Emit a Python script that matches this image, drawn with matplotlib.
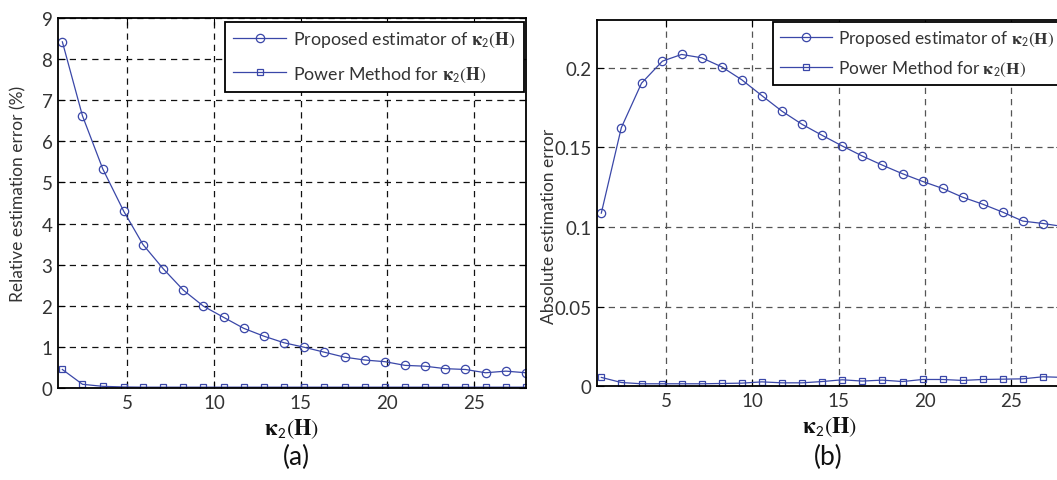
import matplotlib
matplotlib.use("Agg")
import matplotlib.pyplot as plt

plt.rcParams['font.family'] = ['Lato', 'DejaVu Sans']
plt.rcParams['mathtext.fontset'] = 'stix'

# condition number positions (same for both panels)
kappa = [1.25, 2.41, 3.58, 4.79, 5.90, 7.07, 8.23, 9.39, 10.55, 11.72, 12.88, 14.04,
         15.21, 16.37, 17.53, 18.70, 19.86, 21.02, 22.18, 23.35, 24.51, 25.67, 26.84, 28.0]

# (a) relative estimation error (%)
rel_proposed = [8.42, 6.62, 5.33, 4.30, 3.49, 2.90, 2.38, 1.99, 1.72, 1.45, 1.26, 1.10,
                0.99, 0.87, 0.75, 0.68, 0.64, 0.55, 0.53, 0.47, 0.45, 0.37, 0.41, 0.37]
rel_power = [0.45, 0.09, 0.04, 0.025, 0.02, 0.02, 0.02, 0.02, 0.02, 0.02, 0.02, 0.02,
             0.02, 0.02, 0.02, 0.02, 0.02, 0.02, 0.02, 0.02, 0.02, 0.02, 0.02, 0.02]

# (b) absolute estimation error
abs_proposed = [0.1087, 0.1623, 0.1902, 0.2040, 0.2082, 0.2061, 0.2004, 0.1923, 0.1824,
                0.1726, 0.1644, 0.1575, 0.1508, 0.1445, 0.1388, 0.1334, 0.1286, 0.1242,
                0.1187, 0.1143, 0.1093, 0.1037, 0.1022, 0.1003]
abs_power = [0.0057, 0.0025, 0.0017, 0.0017, 0.0017, 0.0017, 0.0019, 0.0021, 0.0029,
             0.0023, 0.0023, 0.0031, 0.0042, 0.0034, 0.0040, 0.0031, 0.0044, 0.0044,
             0.0038, 0.0044, 0.0046, 0.0048, 0.0061, 0.0057]

BLUE = '#3a47a8'
TXT = '#333333'
KAP = r'$\mathbf{\kappa}_{\mathsf{2}}(\mathbf{H})$'
LABELS = ['Proposed estimator of ' + KAP, 'Power Method for ' + KAP]


def style_axes(ax, grid_color):
    for sp in ax.spines.values():
        sp.set_linewidth(1.3)
        sp.set_color('black')
    ax.grid(True, linestyle=(0, (5, 4)), color=grid_color, linewidth=0.9)
    ax.tick_params(direction='in', length=5, width=0.8, top=True, right=True,
                   labelsize=13.5, labelcolor=TXT, pad=4)
    ax.set_xlim(1, 28)
    ax.set_xticks([5, 10, 15, 20, 25])


def draw(ax, y1, y2):
    ax.plot(kappa, y1, color=BLUE, lw=0.9, marker='o', ms=6, mfc='none', mew=0.9,
            label=LABELS[0])
    ax.plot(kappa, y2, color=BLUE, lw=0.9, marker='s', ms=4.5, mfc='none', mew=0.9,
            label=LABELS[1])


def add_legend(ax, anchor, size, spacing, pad):
    leg = ax.legend(loc='upper left', bbox_to_anchor=anchor,
                    bbox_transform=fig.transFigure, borderaxespad=0, fancybox=False,
                    framealpha=1, edgecolor='black', fontsize=size, handlelength=3.0,
                    labelspacing=spacing, borderpad=pad, handletextpad=0.4)
    leg.get_frame().set_linewidth(1.3)
    for t in leg.get_texts():
        t.set_color(TXT)


fig = plt.figure(figsize=(10.57, 4.81), dpi=100)

# panel (a)
ax1 = fig.add_axes([0.0549, 0.1913, 0.4427, 0.7692])
draw(ax1, rel_proposed, rel_power)
style_axes(ax1, '#111111')
ax1.set_ylim(0, 9)
ax1.set_yticks(range(10))
ax1.set_ylabel('Relative estimation error (%)', fontsize=12.5, color=TXT)
ax1.yaxis.set_label_coords(-0.068, 0.527)
ax1.set_xlabel(KAP, fontsize=16, color='#111111', labelpad=4)
add_legend(ax1, (0.2129, 0.952), 12.8, 0.85, 0.45)
fig.text(0.280, 0.048, '(a)', ha='center', va='center', fontsize=19, color='#111111')

# panel (b)
ax2 = fig.add_axes([0.5648, 0.1944, 0.4409, 0.7626])
draw(ax2, abs_proposed, abs_power)
style_axes(ax2, '#555555')
ax2.set_ylim(0, 0.23)
ax2.set_yticks([0, 0.05, 0.1, 0.15, 0.2])
ax2.set_yticklabels(['0', '0.05', '0.1', '0.15', '0.2'])
ax2.set_ylabel('Absolute estimation error', fontsize=12.5, color=TXT)
ax2.yaxis.set_label_coords(-0.086, 0.44)
ax2.set_xlabel(KAP, fontsize=16, color='#111111', labelpad=4)
add_legend(ax2, (0.7313, 0.952), 12.4, 0.6, 0.4)
fig.text(0.784, 0.048, '(b)', ha='center', va='center', fontsize=19, color='#111111')

fig.savefig('out.png', dpi=100, facecolor='white')
